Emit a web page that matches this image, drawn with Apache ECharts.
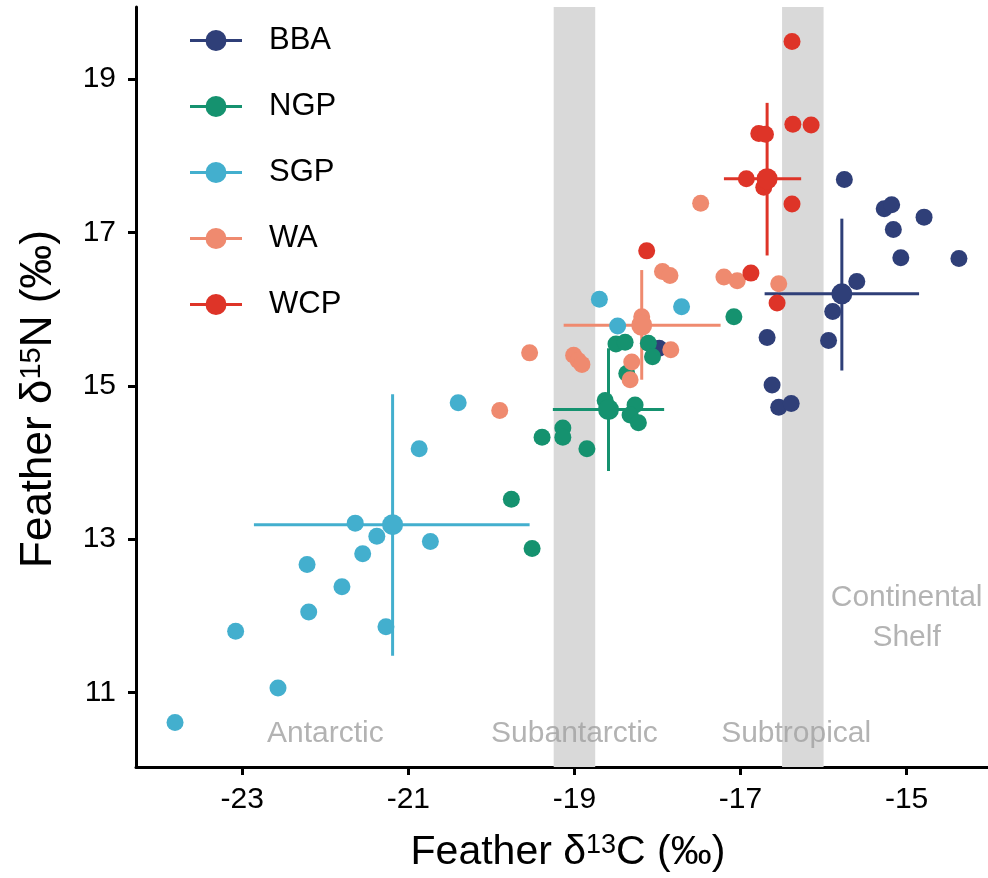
<!DOCTYPE html>
<html>
<head>
<meta charset="utf-8">
<script src="https://cdn.jsdelivr.net/npm/echarts@6/dist/echarts.min.js"></script>
<style>html,body{margin:0;padding:0;background:#fff;}#c{width:988px;height:878px;}</style>
</head>
<body>
<div id="c"></div>
<script>
// ---- data ----
const groups = ['BBA', 'NGP', 'SGP', 'WA', 'WCP'];
const colors = ['#2F3F78', '#15926F', '#43AFCE', '#EF8A6F', '#DE3428'];

const bbaPts = [[-15.75,17.69],[-15.27,17.31],[-15.18,17.36],[-14.79,17.20],[-15.16,17.04],[-15.07,16.67],[-14.37,16.66],[-15.60,16.36],[-15.89,15.97],[-15.94,15.59],[-16.68,15.63],[-16.62,15.01],[-16.54,14.72],[-16.39,14.77],[-17.98,15.49]];
const ngpPts = [[-19.39,14.33],[-19.76,13.52],[-19.51,12.88],[-19.14,14.45],[-19.14,14.33],[-18.85,14.18],[-18.63,14.81],[-18.27,14.75],[-18.33,14.62],[-18.23,14.52],[-18.50,15.545],[-18.39,15.57],[-18.11,15.555],[-18.06,15.38],[-18.37,15.16],[-17.08,15.90]];
const sgpPts = [[-20.40,14.78],[-20.87,14.18],[-21.64,13.21],[-21.38,13.04],[-20.735,12.97],[-21.55,12.81],[-22.22,12.67],[-21.80,12.38],[-22.20,12.05],[-23.08,11.80],[-21.27,11.86],[-22.57,11.06],[-23.81,10.61],[-18.70,16.13],[-17.71,16.03],[-18.48,15.78]];
const waPts  = [[-19.90,14.68],[-19.54,15.43],[-19.01,15.40],[-18.955,15.33],[-18.91,15.28],[-18.19,15.90],[-18.31,15.31],[-18.33,15.08],[-17.84,15.47],[-17.94,16.49],[-17.85,16.44],[-17.48,17.38],[-17.20,16.42],[-17.04,16.37],[-16.54,16.33]];
const wcpPts = [[-16.38,19.49],[-16.37,18.41],[-16.15,18.40],[-16.78,18.29],[-16.70,18.28],[-16.93,17.70],[-16.72,17.59],[-16.38,17.37],[-16.875,16.47],[-16.56,16.08],[-18.13,16.76]];

// group means and error bar ranges
const meanX = [-15.78, -18.59, -21.19, -18.19, -16.68];
const meanY = [16.20, 14.69, 13.19, 15.79, 17.70];
const errXlo = [-16.71, -19.26, -22.86, -19.13, -17.20];
const errXhi = [-14.85, -17.92, -19.54, -17.24, -16.27];
const errYlo = [15.20, 13.89, 11.48, 15.08, 16.70];
const errYhi = [17.18, 15.49, 14.89, 16.51, 18.69];

// water mass bands and labels
const bandRanges = [[-19.25, -18.75], [-16.5, -16.0]];
const regionNames = ['Antarctic', 'Subantarctic', 'Subtropical', 'Continental\nShelf'];
const regionX = [-22.0, -19.0, -16.33, -15.0];
const regionY = [10.47, 10.47, 10.47, 11.98];

const xTicks = [-23, -21, -19, -17, -15];
const yTicks = [11, 13, 15, 17, 19];

// ---- chart ----
const FONT = 'Liberation Sans, Arial, sans-serif';
const allPts = [bbaPts, ngpPts, sgpPts, waPts, wcpPts];
const iconPath = 'path://M0,9L52,9L52,12L0,12Z M15.5,10.5A10.5,10.5 0 1 1 36.5,10.5A10.5,10.5 0 1 1 15.5,10.5Z';

const series = [];
groups.forEach((g, i) => {
  series.push({
    name: g, type: 'scatter', z: 3,
    symbol: 'circle', symbolSize: 17,
    itemStyle: { color: colors[i], opacity: 1 },
    data: allPts[i],
    markArea: i === 0 ? {
      silent: true, z: 1,
      itemStyle: { color: '#D9D9D9' },
      data: bandRanges.map(b => [{ xAxis: b[0] }, { xAxis: b[1] }])
    } : undefined
  });
});
groups.forEach((g, i) => {
  series.push({
    name: g, type: 'custom', z: 2,
    itemStyle: { color: colors[i] },
    data: [[meanX[i], meanY[i], errXlo[i], errXhi[i], errYlo[i], errYhi[i]]],
    encode: { x: 0, y: 1 },
    renderItem: function (params, api) {
      const a = api.coord([api.value(2), api.value(1)]);
      const b = api.coord([api.value(3), api.value(1)]);
      const c = api.coord([api.value(0), api.value(4)]);
      const d = api.coord([api.value(0), api.value(5)]);
      return { type: 'group', children: [
        { type: 'line', shape: { x1: a[0], y1: a[1], x2: b[0], y2: b[1] }, style: { stroke: colors[i], lineWidth: 3 } },
        { type: 'line', shape: { x1: c[0], y1: c[1], x2: d[0], y2: d[1] }, style: { stroke: colors[i], lineWidth: 3 } }
      ] };
    }
  });
});
groups.forEach((g, i) => {
  series.push({
    name: g, type: 'scatter', z: 4,
    symbol: 'circle', symbolSize: 21,
    itemStyle: { color: colors[i], opacity: 1 },
    data: [[meanX[i], meanY[i]]]
  });
});
series.push({
  name: 'regions', type: 'scatter', z: 5, symbolSize: 0, silent: true,
  data: regionNames.map((n, i) => ({ name: n, value: [regionX[i], regionY[i]] })),
  label: { show: true, position: 'inside', formatter: '{b}', color: '#A0A0A0', fontSize: 30, lineHeight: 40, fontFamily: FONT }
});

const axisCommon = {
  type: 'value',
  splitLine: { show: false },
  axisLine: { show: true, onZero: false, lineStyle: { color: '#000', width: 3 } },
  nameLocation: 'middle'
};

const option = {
  animation: false,
  backgroundColor: '#fff',
  grid: { left: 136, right: 0, top: 7, bottom: 111 },
  xAxis: Object.assign({}, axisCommon, {
    min: -24.28, max: -14.02,
    axisTick: { show: true, customValues: xTicks, length: 8, lineStyle: { color: '#000', width: 3 } },
    axisLabel: { customValues: xTicks, fontSize: 30, color: '#000', margin: 18, fontFamily: FONT },
    name: 'Feather δ{sup|13}C (‰)', nameGap: 65,
    nameTextStyle: { fontSize: 41, color: '#000', fontFamily: FONT, padding: [0, 0, 0, 12],
      rich: { sup: { fontSize: 27, verticalAlign: 'top', color: '#000', fontFamily: FONT } } }
  }),
  yAxis: Object.assign({}, axisCommon, {
    min: 10.03, max: 19.94,
    axisTick: { show: true, customValues: yTicks, length: 8, lineStyle: { color: '#000', width: 3 } },
    axisLabel: { customValues: yTicks, fontSize: 30, color: '#000', margin: 20, fontFamily: FONT },
    name: 'Feather δ{sup|15}N (‰)', nameGap: 75,
    nameTextStyle: { fontSize: 44, color: '#000', fontFamily: FONT, padding: [0, 24, 0, 0],
      rich: { sup: { fontSize: 29, verticalAlign: 'top', color: '#000', fontFamily: FONT } } }
  }),
  legend: {
    orient: 'vertical', left: 190, top: 25, padding: 0,
    itemWidth: 52, itemHeight: 21, itemGap: 35,
    selectedMode: false,
    textStyle: { fontSize: 31, lineHeight: 30, color: '#000', padding: [0, 0, 0, 22], fontFamily: FONT },
    data: groups.map(g => ({ name: g, icon: iconPath }))
  },
  series: series
};

const chart = echarts.init(document.getElementById('c'), null, { renderer: 'canvas' });
chart.setOption(option);
</script>
</body>
</html>
